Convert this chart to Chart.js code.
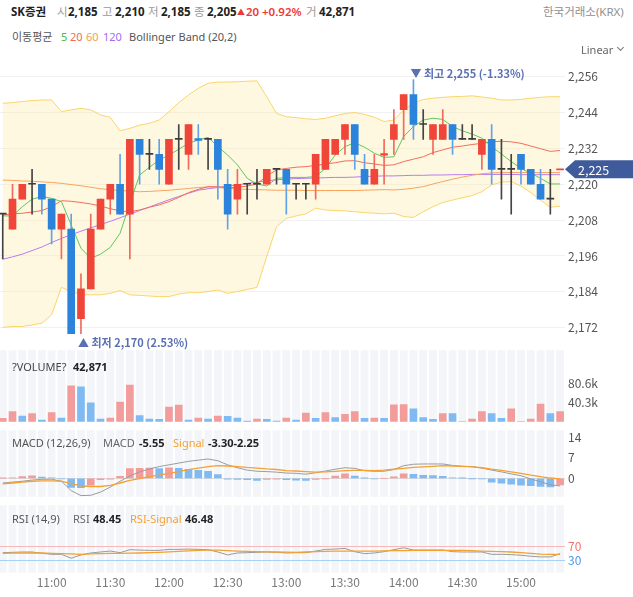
<!DOCTYPE html>
<html><head><meta charset="utf-8">
<script src="https://cdn.jsdelivr.net/npm/chart.js@4.4.1/dist/chart.umd.min.js"></script>
<style>
html,body{margin:0;padding:0;background:#fff;}
body{width:633px;height:597px;position:relative;overflow:hidden;font-family:"Noto Sans","Noto Sans CJK KR",sans-serif;}
canvas{position:absolute;left:0;}
.t{position:absolute;white-space:nowrap;line-height:1;z-index:5;}
.h{font-size:11.5px;top:6px;}
.s{font-size:11px;}
.g{color:#9a9a9a;} .b{font-weight:700;color:#222;} .r{color:#ec3b34;}
</style></head><body>
<canvas id="cMain" width="633" height="308" style="top:52px"></canvas>
<canvas id="cVol" width="633" height="92" style="top:340px"></canvas>
<canvas id="cMacd" width="633" height="87" style="top:420px"></canvas>
<canvas id="cRsi" width="633" height="98" style="top:495px"></canvas>

<div class="t h b" style="left:11px;">SK증권</div>
<div class="t h g" style="left:57px;">시</div>
<div class="t h b" style="left:68px;">2,185</div>
<div class="t h g" style="left:102px;">고</div>
<div class="t h b" style="left:115px;">2,210</div>
<div class="t h g" style="left:148px;">저</div>
<div class="t h b" style="left:161px;">2,185</div>
<div class="t h g" style="left:194px;">종</div>
<div class="t h b" style="left:207px;">2,205</div>
<div class="t r" style="left:237px;top:8px;font-size:8px;">▲</div>
<div class="t h r" style="left:246px;font-weight:600;">20</div>
<div class="t h r" style="left:262px;font-weight:600;">+0.92%</div>
<div class="t h g" style="left:306px;">거</div>
<div class="t h b" style="left:319px;">42,871</div>
<div class="t h" style="left:543px;color:#8f8f8f;">한국거래소(KRX)</div>

<div class="t s" style="left:12px;top:31px;color:#555;">이동평균</div>
<div class="t s" style="left:61px;top:31px;color:#46b946;">5</div>
<div class="t s" style="left:70px;top:31px;color:#f06a5a;">20</div>
<div class="t s" style="left:86px;top:31px;color:#f4a04a;">60</div>
<div class="t s" style="left:103px;top:31px;color:#a46cf0;">120</div>
<div class="t s" style="left:129px;top:31px;color:#555;">Bollinger Band (20,2)</div>
<div class="t s" style="left:581px;top:44px;color:#666;">Linear</div>
<div class="t" style="left:618px;top:45px;width:4px;height:4px;border-right:1px solid #777;border-bottom:1px solid #777;transform:rotate(45deg);"></div>

<div class="t s" style="left:12px;top:361px;color:#444;">?VOLUME?</div>
<div class="t s b" style="left:73px;top:361px;">42,871</div>

<div class="t s" style="left:12px;top:437px;color:#555;">MACD (12,26,9)</div>
<div class="t s" style="left:103px;top:437px;color:#666;">MACD</div>
<div class="t s b" style="left:139px;top:437px;">-5.55</div>
<div class="t s" style="left:173px;top:437px;color:#f5a032;">Signal</div>
<div class="t s b" style="left:208px;top:437px;">-3.30-2.25</div>

<div class="t s" style="left:12px;top:513px;color:#555;">RSI (14,9)</div>
<div class="t s" style="left:73px;top:513px;color:#666;">RSI</div>
<div class="t s b" style="left:93px;top:513px;">48.45</div>
<div class="t s" style="left:130px;top:513px;color:#f5a032;">RSI-Signal</div>
<div class="t s b" style="left:185px;top:513px;">46.48</div>

<script>
// ---------------- DATA ----------------
const times = ['10:35','10:40','10:45','10:50','10:55','11:00','11:05','11:10','11:15','11:20','11:25','11:30','11:35','11:40','11:45','11:50','11:55','12:00','12:05','12:10','12:15','12:20','12:25','12:30','12:35','12:40','12:45','12:50','12:55','13:00','13:05','13:10','13:15','13:20','13:25','13:30','13:35','13:40','13:45','13:50','13:55','14:00','14:05','14:10','14:15','14:20','14:25','14:30','14:35','14:40','14:45','14:50','14:55','15:00','15:05','15:10','15:15','15:20'];
const open  = [2210,2205,2215,2220,2220,2215,2205,2205,2175,2185, 2205,2215,2220,2210,2235,2230,2230,2220,2235,2230, 2235.3,2235,2235,2220,2215,2220,2220,2220,2225,2225, 2220,2220,2220,2225,2230,2235,2240,2225,2220,2229.7, 2235,2245,2250,2240,2235,2235,2240,2235,2235,2230, 2235,2225,2225,2230,2225,2220,2215,2224.8];
const high  = [2210,2220,2220,2225,2220,2215,2210,2210,2190,2210, 2215,2220,2230,2235,2235,2235,2235,2235,2240,2240, 2240,2235,2235,2225,2225,2220,2225,2225,2225,2225, 2220,2220,2230,2235,2235,2240,2240,2230,2230,2235, 2245,2250,2255,2245,2240,2245,2240,2240,2240,2235, 2240,2235,2230,2230,2225,2225,2225,2225];
const low   = [2195,2205,2215,2210,2210,2200,2195,2170,2170,2185, 2205,2210,2210,2195,2220,2225,2220,2220,2225,2225, 2230,2225,2215,2205,2210,2210,2215,2220,2220,2210, 2215,2215,2215,2225,2230,2230,2225,2220,2220,2220, 2230,2235,2235,2235,2230,2235,2230,2235,2235,2225, 2220,2215,2210,2220,2220,2215,2210,2225];
const close = [2210,2215,2220,2220,2215,2205,2210,2170,2185,2205, 2215,2220,2210,2235,2230,2230,2225,2235,2235,2240, 2234.7,2235,2225,2210,2220,2220,2220,2225,2225,2220, 2220,2220,2230,2235,2235,2240,2230,2220,2225,2230.3, 2240,2250,2240,2240,2240,2240,2235,2235,2235,2235, 2225,2225,2225,2225,2220,2215,2215,2225.2];
const volume = [7100,21900,12000,17700,3500,19800,7800,76400,74200,40300, 5700,7800,41700,77800,13400,5700,5500,31100,35400,3500, 7800,5700,12000,11500,7800,1400,5700,5500,1400,7800, 3500,18400,7100,19800,9200,15600,21900,7100,7800,7100, 36000,36500,27600,9200,5000,17700,17500,700,5700,21900, 17700,7100,27600,700,5700,37500,17700,21900];
const ma5 = [2209.4,2209.4,2212.5,2215.0,2215.9,2215.3,2214.2,2206.4,2198.6,2195.2, 2196.6,2198.9,2203.6,2213.6,2223.1,2225.7,2228.1,2229.8,2231.7,2233.7, 2234.8,2235.7,2232.6,2229.8,2226.5,2222.0,2220.1,2219.4,2222.0,2222.2, 2222.3,2222.3,2222.6,2225.3,2229.8,2232.6,2233.9,2232.4,2230.4,2229.0, 2229.2,2236.0,2239.3,2241.5,2242.1,2241.7,2239.3,2237.9,2236.8,2235.4, 2232.6,2230.1,2227.6,2225.3,2223.7,2222.0,2220.1,2220.1];
const ma20 = [2209.7,2210.1,2210.3,2210.7,2211.2,2212.5,2214.5,2214.3,2213.9,2213.4, 2212.7,2211.8,2211.1,2210.8,2211.4,2212.3,2213.1,2214.2,2215.6,2217.2, 2218.3,2219.2,2219.2,2218.8,2219.0,2219.4,2220.1,2222.8,2224.8,2225.3, 2225.7,2225.9,2226.3,2226.8,2227.2,2227.8,2227.9,2227.2,2226.8,2226.3, 2226.5,2227.6,2228.4,2229.2,2230.6,2231.5,2232.4,2232.8,2233.3,2233.7, 2234.2,2234.4,2234.2,2233.7,2232.8,2231.9,2231.0,2231.3];
const ma60 = [2221.4,2221.3,2221.1,2221.0,2220.8,2220.6,2220.3,2219.9,2219.5,2219.0, 2218.5,2218.2,2217.9,2217.7,2217.5,2217.6,2217.8,2218.0,2218.3,2218.6, 2218.9,2219.1,2218.9,2218.6,2218.4,2218.3,2218.2,2218.1,2218.0,2218.0, 2218.0,2217.9,2217.9,2217.9,2217.9,2217.9,2217.9,2218.0,2218.1,2218.2, 2218.1,2218.3,2218.7,2219.2,2220.1,2220.9,2221.7,2222.4,2223.0,2223.5, 2223.8,2223.9,2223.9,2223.9,2223.9,2223.9,2223.9,2223.9];
const ma120 = [2194.9,2195.7,2196.6,2197.8,2199.0,2200.5,2201.9,2203.1,2204.3,2205.4, 2206.5,2207.6,2208.8,2210.0,2211.2,2212.4,2213.6,2214.8,2215.9,2217.0, 2218.0,2218.5,2218.9,2219.4,2219.8,2220.3,2220.7,2221.2,2221.5,2221.7, 2221.9,2222.0,2222.1,2222.2,2222.3,2222.3,2222.4,2222.6,2222.7,2222.8, 2222.8,2222.9,2223.0,2223.0,2223.1,2223.1,2223.2,2223.2,2223.3,2223.3, 2223.3,2223.3,2223.3,2223.2,2223.2,2223.2,2223.2,2223.2];
const bbUpper = [2247.1,2247.3,2247.7,2248.0,2248.2,2248.2,2244.3,2244.9,2245.4,2244.9, 2243.2,2242.4,2237.9,2238.7,2239.8,2240.4,2241.5,2244.3,2247.3,2249.9, 2252.1,2253.8,2254.2,2254.2,2254.3,2254.5,2254.6,2249.3,2243.7,2242.6, 2242.3,2241.9,2241.7,2242.1,2242.9,2243.7,2244.0,2243.4,2242.4,2241.0, 2241.5,2244.9,2247.1,2248.4,2248.8,2249.1,2249.3,2249.4,2249.6,2249.2, 2248.8,2248.2,2248.2,2248.4,2248.8,2249.1,2249.3,2249.3];
const bbLower = [2172.1,2172.4,2172.4,2172.9,2173.5,2176.3,2185.5,2184.1,2183.0,2183.0, 2183.0,2183.5,2184.4,2183.0,2182.8,2182.6,2182.4,2182.4,2183.3,2183.7, 2183.7,2184.1,2184.6,2183.5,2184.1,2184.8,2185.5,2195.8,2205.8,2208.6, 2209.4,2210.1,2212.0,2211.4,2211.2,2211.1,2210.8,2210.5,2210.3,2210.1, 2210.3,2209.2,2208.9,2210.8,2212.5,2213.9,2214.7,2215.5,2216.2,2217.5, 2219.8,2220.7,2220.9,2219.4,2217.2,2214.7,2212.3,2212.7];
const macdHist = [0.05,0.15,0.57,0.85,0.45,0.1,-0.2,-3.1,-3.2,-2.3, -0.45,-0.3,0.7,3.3,3.4,3.5,3.3,3.6,3.4,3.1, 2.7,2.4,1.3,-0.3,-0.4,-0.5,-0.7,-0.4,-0.3,-0.5, -0.6,-0.7,-0.4,-0.1,0.8,1.5,0.8,0.05,-0.2,0.0, 0.5,1.5,1.4,1.0,0.95,0.7,0.2,0.05,-0.1,-0.2, -1.3,-1.7,-2.0,-2.3,-2.5,-2.8,-2.9,-2.25];
const macdLine = [-1.6,-1.3,-1.0,-0.6,-0.35,-0.3,-1.0,-4.2,-5.9,-5.8, -4.7,-3.0,-1.0,0.8,2.2,3.2,4.0,4.6,5.2,5.8, 6.2,6.6,6.0,4.6,3.6,2.8,2.4,2.3,2.1,1.8, 1.7,1.4,1.9,2.5,3.1,3.6,3.4,2.6,2.4,2.4, 3.0,4.3,4.8,4.9,4.9,4.9,4.4,4.1,4.0,3.5, 2.8,2.2,1.5,0.9,-0.2,-1.2,-2.2,-2.6];
const signalLine = [-1.9,-1.6,-1.3,-1.0,-0.9,-0.9,-1.0,-1.8,-2.6,-2.8, -2.8,-2.4,-1.6,-0.7,-0.1,0.6,1.1,1.7,2.3,3.0, 3.5,4.0,4.3,4.2,4.0,3.7,3.5,3.2,3.0,2.6, 2.5,2.3,2.1,2.2,2.4,2.6,2.7,2.7,2.6,2.8, 3.1,3.4,3.7,3.9,4.1,4.3,4.2,4.1,3.9,3.6, 3.1,2.7,2.2,1.7,1.1,0.6,0.1,-0.2];
const rsi = [51.4,52.3,53.3,53.3,49.5,46.7,46.7,35.6,44.9,50.5, 53.3,56.0,51.4,59.8,58.8,57.9,57.9,60.7,60.7,61.6, 60.7,59.8,53.3,44.9,50.5,51.4,52.3,53.3,52.3,50.5, 51.4,51.4,56.0,60.7,61.6,63.5,54.2,48.6,50.5,54.2, 59.8,65.3,58.8,58.8,58.8,58.8,54.2,53.3,53.3,53.3, 46.7,46.7,45.8,44.0,41.2,39.3,39.3,48.45];
const rsiSignal = [49.5,50.0,50.5,50.5,50.5,49.5,48.6,47.7,46.7,47.7, 48.6,49.1,49.5,50.0,50.5,51.4,52.3,53.7,55.1,56.5, 57.9,58.4,58.8,57.4,56.0,55.1,54.2,53.7,53.3,52.8, 52.3,53.3,54.2,55.1,56.0,56.0,56.0,56.0,56.0,56.5, 57.0,57.4,57.9,57.9,57.9,57.9,57.9,57.9,57.0,56.0, 55.1,54.2,53.3,51.4,49.5,47.2,46.7,46.48];
const priceTicks = [2172,2184,2196,2208,2220,2232,2244,2256];
const volTicks = [40300,80600];
const macdTicks = [0,7,14];
const rsiTicks = [30,70];
const lastPrice = 2225;

// ---------------- STYLE / HELPERS ----------------
Chart.defaults.font.family = '"Noto Sans CJK KR","Noto Sans",sans-serif';
const X_MIN = 0.72, X_MAX = 58.5, AXIS_W = 68;
const UP = '#f0463a', DOWN = '#2b83dc', FLAT = '#3b3b3b';
const UPW = '#f2695d', DOWNW = '#5ea4ea', FLATW = '#444';
const UPL = '#f39c9c', DOWNL = '#80baf3';
const fmt = v => v.toLocaleString('en-US');
const pts = arr => arr.map((v, k) => ({x: k + 1, y: v}));
const dir = k => close[k] > open[k] ? 1 : (close[k] < open[k] ? -1 : 0);
const labelIdx = times.map((t, k) => (t.endsWith(':00') || t.endsWith(':30')) ? k + 1 : null).filter(v => v !== null);
const risingColors = arr => arr.map((v, k) => (k === 0 || v > arr[k - 1]) ? UPL : DOWNL);

const line = (arr, color, w, order, extra) => Object.assign({
  type: 'line', data: pts(arr), borderColor: color, borderWidth: w,
  pointRadius: 0, fill: false, order: order, tension: 0
}, extra || {});

const stripes = {
  id: 'stripes',
  beforeDraw(chart) {
    const {ctx, chartArea: a, scales: {x}} = chart;
    ctx.save();
    ctx.fillStyle = '#f3f5f9';
    times.forEach((t, k) => {
      const px = x.getPixelForValue(k + 1);
      ctx.fillRect(px - 3.9, a.top, 7.8, a.bottom - a.top);
    });
    ctx.restore();
  }
};

function make(id, datasets, yOpts, plugins, showX) {
  return new Chart(document.getElementById(id), {
    type: 'bar',
    data: {datasets: datasets},
    options: {
      responsive: false, animation: false, events: [],
      layout: {padding: 0},
      plugins: {legend: {display: false}, tooltip: {enabled: false}},
      scales: {
        x: {
          type: 'linear', min: X_MIN, max: X_MAX, offset: false, display: !!showX,
          grid: {display: false, drawTicks: false}, border: {display: false},
          afterBuildTicks: s => { s.ticks = labelIdx.map(v => ({value: v})); },
          ticks: {callback: v => times[v - 1], color: '#7a7a7a', font: {size: 12}, padding: 3, maxRotation: 0, autoSkip: false}
        },
        y: Object.assign({
          type: 'linear', position: 'right',
          afterFit: s => { s.width = AXIS_W; },
          border: {display: false}
        }, yOpts)
      }
    },
    plugins: plugins || []
  });
}

// ---------------- MAIN PRICE CHART ----------------
const notes = {
  id: 'notes',
  afterDraw(chart) {
    const {ctx, scales: {x, y}, chartArea: a} = chart;
    const hi = Math.max(...high), hiK = high.indexOf(hi);
    const lo = Math.min(...low), loK = low.lastIndexOf(lo);
    const pct = v => ((lastPrice - v) / v * 100).toFixed(2);
    ctx.save();
    ctx.textBaseline = 'middle'; ctx.textAlign = 'left';
    ctx.fillStyle = '#5a70b2';
    ctx.font = '600 11px "Noto Sans CJK KR"';
    ctx.fillText('▼ 최고 ' + fmt(hi) + ' (' + pct(hi) + '%)', x.getPixelForValue(hiK + 1) - 3, y.getPixelForValue(hi) - 6);
    ctx.fillText('▲ 최저 ' + fmt(lo) + ' (' + pct(lo) + '%)', x.getPixelForValue(loK + 1) - 3, y.getPixelForValue(lo) + 9);
    const py = y.getPixelForValue(lastPrice), r = a.right;
    ctx.fillStyle = '#3f5b9c';
    ctx.beginPath();
    ctx.moveTo(r, py); ctx.lineTo(r + 10, py - 9); ctx.lineTo(chart.width, py - 9);
    ctx.lineTo(chart.width, py + 9); ctx.lineTo(r + 10, py + 9); ctx.closePath(); ctx.fill();
    ctx.fillStyle = '#fff'; ctx.font = '12.5px "Noto Sans CJK KR"';
    ctx.fillText(fmt(lastPrice), r + 13, py + 0.5);
    ctx.restore();
  }
};

make('cMain', [
  {type: 'bar', data: open.map((o, k) => ({x: k + 1, y: [o, close[k]]})),
   backgroundColor: open.map((o, k) => [FLAT, UP, DOWN][dir(k) === 1 ? 1 : dir(k) === -1 ? 2 : 0]),
   barThickness: 7, minBarLength: 1, grouped: false, order: 0},
  {type: 'bar', data: low.map((l, k) => ({x: k + 1, y: [l, high[k]]})),
   backgroundColor: low.map((l, k) => [FLATW, UPW, DOWNW][dir(k) === 1 ? 1 : dir(k) === -1 ? 2 : 0]),
   barThickness: 1, grouped: false, order: 1},
  line(ma5, '#5cc85c', 1, 2),
  line(ma20, '#f26d5b', 1, 3),
  line(ma60, '#f7a35c', 1, 4),
  line(ma120, '#b67cf0', 1, 5),
  line(bbUpper, '#fbd46a', 1, 7, {fill: '+1', backgroundColor: 'rgba(255,234,165,0.34)'}),
  line(bbLower, '#fbd46a', 1, 6)
], {
  min: 2164.6, max: 2260.85,
  afterBuildTicks: s => { s.ticks = priceTicks.map(v => ({value: v})); },
  ticks: {callback: v => fmt(v), color: '#555', font: {size: 12}, padding: 3, autoSkip: false},
  grid: {color: '#f1f1f1', drawTicks: false}
}, [notes]);

// ---------------- VOLUME ----------------
make('cVol', [
  {type: 'bar', data: pts(volume), backgroundColor: risingColors(volume), barThickness: 7, grouped: false}
], {
  min: 0, max: 151900,
  afterBuildTicks: s => { s.ticks = volTicks.map(v => ({value: v})); },
  ticks: {callback: v => (v / 1000).toFixed(1) + 'k', color: '#555', font: {size: 12}, padding: 3, autoSkip: false},
  grid: {display: false, drawTicks: false}
}, [stripes]);

// ---------------- MACD ----------------
make('cMacd', [
  {type: 'bar', data: pts(macdHist), backgroundColor: risingColors(macdHist), barThickness: 7, grouped: false, order: 2},
  line(macdLine, '#9c9c9c', 1, 1),
  line(signalLine, '#f5a032', 1.3, 0)
], {
  min: -6.31, max: 16.42,
  afterBuildTicks: s => { s.ticks = macdTicks.map(v => ({value: v})); },
  ticks: {color: '#555', font: {size: 12}, padding: 3, autoSkip: false},
  grid: {drawTicks: false, color: c => (c.tick && c.tick.value === 0) ? '#dadada' : 'rgba(0,0,0,0)'}
}, [stripes]);

// ---------------- RSI ----------------
make('cRsi', [
  line(rsi, '#9a9a9a', 1, 1),
  line(rsiSignal, '#f5a032', 1.3, 0)
], {
  min: -5.2, max: 186.1,
  afterBuildTicks: s => { s.ticks = rsiTicks.map(v => ({value: v})); },
  ticks: {color: c => c.tick.value === 70 ? '#f07272' : '#4a9ae8', font: {size: 12}, padding: 3, autoSkip: false},
  grid: {drawTicks: false, color: c => (c.tick && c.tick.value === 70) ? '#f6b8b8' : ((c.tick && c.tick.value === 30) ? '#a9d0f5' : 'rgba(0,0,0,0)')}
}, [stripes], true);
</script>
</body></html>
